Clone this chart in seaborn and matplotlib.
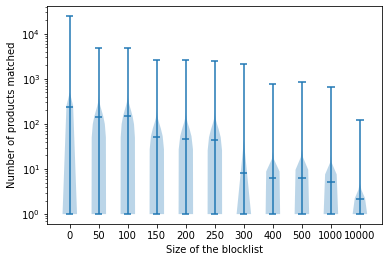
import numpy as np
import seaborn as sns
import matplotlib
matplotlib.use("Agg")
import matplotlib.pyplot as plt

# Blocklist sizes (x categories)
sizes = ["0", "50", "100", "150", "200", "250", "300", "400", "500", "1000", "10000"]

# Per-size summary
max_matched = [24900, 4870, 4870, 2600, 2600, 2460, 2150, 775, 855, 655, 123]
mean_matched = [240, 144, 151, 52, 47, 44, 8.2, 6.4, 6.4, 5.2, 2.2]

# Rough bulk of each distribution (what the violin body shows)
bulk_0 = [1, 1, 2, 4, 8, 15, 25, 40, 60, 85, 110, 140, 170, 200, 230, 260, 290, 330]
bulk_50 = [1, 2, 4, 7, 10, 15, 20, 30, 40, 50]
bulk_100 = [1, 2, 4, 7, 10, 15, 20, 30, 40, 50]
bulk_150 = [1, 2, 3, 5, 8, 12, 16, 20, 25, 30]
bulk_200 = [1, 2, 3, 5, 8, 12, 16, 20, 25, 30]
bulk_250 = [1, 2, 3, 5, 8, 12, 16, 20, 25, 30]
bulk_300 = [1, 1, 1, 1, 1, 2, 2, 3, 4, 5, 7, 9, 12, 16, 20]
bulk_400 = [1, 1, 2, 3, 4, 5, 6, 7, 8, 9]
bulk_500 = [1, 1, 2, 3, 4, 5, 6, 7, 8, 10]
bulk_1000 = [1, 1, 2, 3, 4, 5, 6, 7]
bulk_10000 = [1, 1, 1, 1, 2]
bulks = [bulk_0, bulk_50, bulk_100, bulk_150, bulk_200, bulk_250,
         bulk_300, bulk_400, bulk_500, bulk_1000, bulk_10000]

# KDE bandwidth in "products" units for each violin
kde_bw = [50, 130, 140, 60, 55, 55, 6, 5, 6, 4, 1.2]

sns.set_style("ticks", {"axes.edgecolor": "black", "xtick.color": "black",
                        "ytick.color": "black", "text.color": "black",
                        "axes.labelcolor": "black"})
plt.rcParams["font.size"] = 10

fig, ax = plt.subplots(figsize=(389 / 72, 262 / 72), dpi=72)
fig.subplots_adjust(left=0.1216, right=0.983, top=0.977, bottom=0.145)

for i, (bulk, mx, bw) in enumerate(zip(bulks, max_matched, kde_bw)):
    data = np.array(bulk + [mx], dtype=float)
    parts = ax.violinplot(data, positions=[i + 1], showextrema=True,
                          bw_method=bw / data.std(ddof=1))
    for body in parts["bodies"]:
        body.set_facecolor("C0")
        body.set_edgecolor("none")
        body.set_alpha(0.3)
    for key in ("cbars", "cmins", "cmaxes"):
        parts[key].set_color("C0")
        parts[key].set_linewidth(1.5)

# mean markers
pos = np.arange(1, len(sizes) + 1)
ax.hlines(mean_matched, pos - 0.125, pos + 0.125, color="C0", linewidth=1.5)

ax.set_yscale("log")
ax.set_xticks(pos)
ax.set_xticklabels(sizes)
ax.set_xlabel("Size of the blocklist")
ax.set_ylabel("Number of products matched")

fig.savefig("out.png", dpi=72)
